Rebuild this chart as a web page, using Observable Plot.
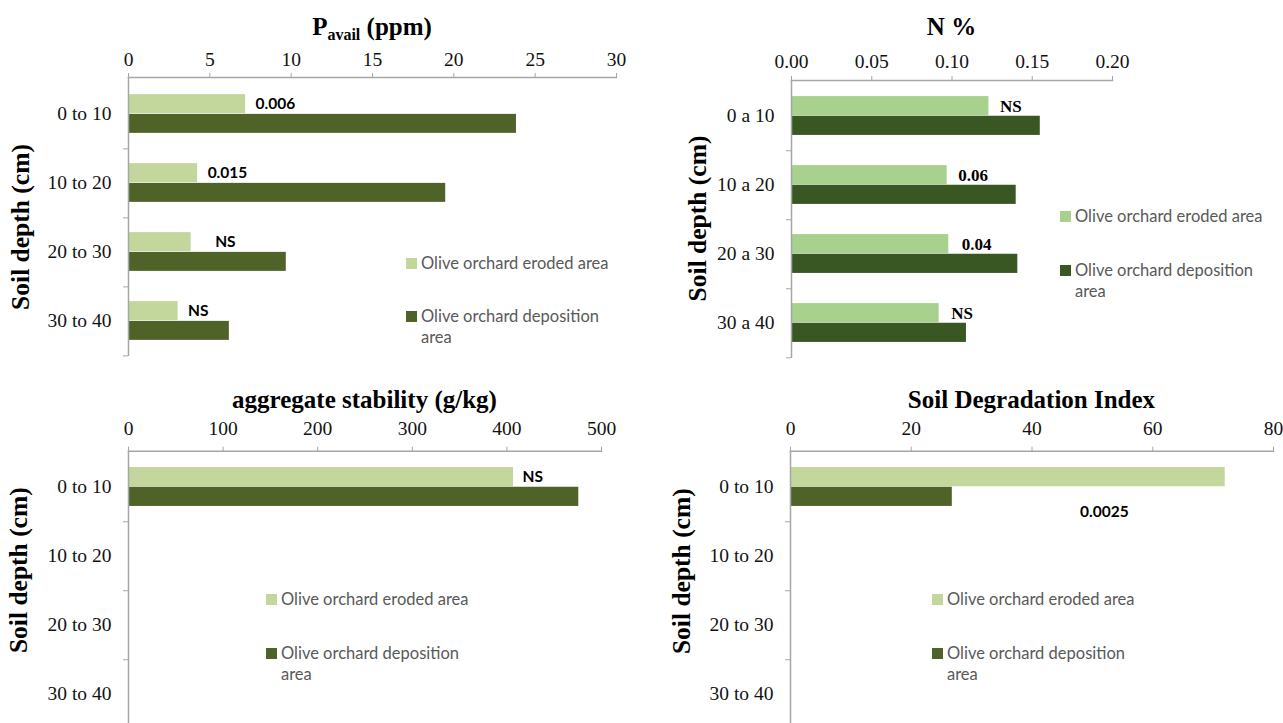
<!DOCTYPE html>
<html><head><meta charset="utf-8">
<script src="https://cdn.jsdelivr.net/npm/d3@7"></script>
<script src="https://cdn.jsdelivr.net/npm/@observablehq/plot@0.6"></script>
<style>
html,body{margin:0;padding:0;background:#fff;}
body{width:1283px;height:723px;position:relative;overflow:hidden;}
.panel{position:absolute;}
.panel svg{display:block;max-width:none;}
.title{position:absolute;font-family:"Liberation Serif",serif;font-weight:bold;font-size:25px;line-height:28px;text-align:center;color:#000;white-space:nowrap;}
.title sub{font-size:16px;vertical-align:-5px;line-height:0;}
.leg{position:absolute;display:flex;align-items:flex-start;font-family:Lato,sans-serif;font-size:16.5px;line-height:21px;color:#595959;}
.leg .sw{width:11px;height:11px;margin-top:5px;margin-right:4px;flex:none;}
</style></head><body>
<script>
// ---------- data ----------
const depthTo = ["0 to 10", "10 to 20", "20 to 30", "30 to 40"];
const depthA = ["0 a 10", "10 a 20", "20 a 30", "30 a 40"];
const seriesNames = ["Olive orchard eroded area", "Olive orchard deposition area"];
const yTitle = "Soil depth (cm)";

const pEroded = [7.2, 4.25, 3.85, 3.05];
const pDeposition = [23.85, 19.5, 9.7, 6.2];
const pSig = ["0.006", "0.015", "NS", "NS"];
const pTicks = [0, 5, 10, 15, 20, 25, 30];

const nEroded = [0.123, 0.097, 0.098, 0.092];
const nDeposition = [0.155, 0.140, 0.141, 0.109];
const nSig = ["NS", "0.06", "0.04", "NS"];
const nTicks = [0, 0.05, 0.10, 0.15, 0.20];

const aggEroded = [407];
const aggDeposition = [476];
const aggSig = ["NS"];
const aggTicks = [0, 100, 200, 300, 400, 500];

const sdiEroded = [72];
const sdiDeposition = [26.8];
const sdiSig = ["0.0025"];
const sdiTicks = [0, 20, 40, 60, 80];

// ---------- panels ----------
const panels = [
  {left:0, top:0, width:640, height:370, mt:77, mb:14, ml:128, mr:24,
   cats:depthTo, eroded:pEroded, deposition:pDeposition, sig:pSig, ticks:pTicks, fmt:d=>String(d),
   light:"#c3d69b", dark:"#4f6228", sigFont:"Lato", sigSize:15.5, sigMode:"eroded", sigGap:[10, 10, 24, 10],
   title:'P<sub>avail</sub> (ppm)', titleY:27, tickPad:7, ytDx:-108, ytDy:10,
   leg:{x:406, y1:263, y2:316, w:200}},
  {left:640, top:0, width:643, height:370, mt:80, mb:12, ml:151, mr:171,
   cats:depthA, eroded:nEroded, deposition:nDeposition, sig:nSig, ticks:nTicks, fmt:d3.format(".2f"),
   light:"#a9d18e", dark:"#385723", sigFont:"Liberation Serif", sigSize:17, sigMode:"eroded", sigGap:[11, 11, 13, 12],
   title:'N %', titleY:27, tickPad:8, ytDx:-94, ytDy:-1,
   leg:{x:1060, y1:216, y2:270, w:210}},
  {left:0, top:370, width:640, height:360, mt:80.7, mb:1.3, ml:128, mr:39,
   cats:depthTo, eroded:aggEroded, deposition:aggDeposition, sig:aggSig, ticks:aggTicks, fmt:d=>String(d),
   light:"#c3d69b", dark:"#4f6228", sigFont:"Lato", sigSize:15.5, sigMode:"eroded", sigGap:[9],
   title:'aggregate stability (g/kg)', titleY:400, tickPad:11, ytDx:-110, ytDy:-20,
   leg:{x:266, y1:599, y2:653, w:200}},
  {left:640, top:370, width:643, height:360, mt:80.7, mb:1.3, ml:150, mr:10,
   cats:depthTo, eroded:sdiEroded, deposition:sdiDeposition, sig:sdiSig, ticks:sdiTicks, fmt:d=>String(d),
   light:"#c3d69b", dark:"#4f6228", sigFont:"Lato", sigSize:15.5, sigMode:"below", sigGap:[152],
   title:'Soil Degradation Index', titleY:400, tickPad:11, ytDx:-109, ytDy:-19,
   leg:{x:932, y1:599, y2:653, w:200}}
];

const axisColor = "#a6a6a6";

panels.forEach(cfg => {
  const rowsE = cfg.eroded.map((v, i) => ({depth: cfg.cats[i], v, sig: cfg.sig[i], gap: cfg.sigGap[i]}));
  const rowsD = cfg.deposition.map((v, i) => ({depth: cfg.cats[i], v, sig: cfg.sig[i], gap: cfg.sigGap[i]}));
  const band = (cfg.height - cfg.mt - cfg.mb) / cfg.cats.length;
  const barH = band * 0.283;
  const outer = (band - 2 * barH) / 2;

  const sigMarks = cfg.sigMode === "eroded"
    ? rowsE.map(r => Plot.text([r], {x: "v", y: "depth", text: "sig", textAnchor: "start", dx: r.gap, dy: -barH / 2,
        fontFamily: cfg.sigFont, fontWeight: "bold", fontSize: cfg.sigSize, fill: "#000"}))
    : rowsD.map(r => Plot.text([r], {x: "v", y: "depth", text: "sig", textAnchor: "middle", dx: r.gap, dy: 25,
        fontFamily: cfg.sigFont, fontWeight: "bold", fontSize: cfg.sigSize, fill: "#000"}));

  const chart = Plot.plot({
    width: cfg.width, height: cfg.height,
    marginTop: cfg.mt, marginBottom: cfg.mb, marginLeft: cfg.ml, marginRight: cfg.mr,
    style: {fontFamily: "Liberation Serif", fontSize: "19px", color: "#111", background: "transparent"},
    x: {domain: [cfg.ticks[0], cfg.ticks[cfg.ticks.length - 1]], axis: null},
    y: {domain: cfg.cats, padding: 0, axis: null},
    marks: [
      Plot.barX(rowsE, {x: "v", y: "depth", fill: cfg.light, insetTop: outer, insetBottom: outer + barH}),
      Plot.barX(rowsD, {x: "v", y: "depth", fill: cfg.dark, insetTop: outer + barH, insetBottom: outer}),
      Plot.frame({anchor: "top", stroke: axisColor, strokeWidth: 1.5}),
      Plot.ruleX([cfg.ticks[0]], {stroke: axisColor, strokeWidth: 1.5}),
      Plot.axisX({anchor: "top", ticks: cfg.ticks, tickFormat: cfg.fmt, tickSize: 5, tickPadding: cfg.tickPad,
        stroke: axisColor, fill: "#111", label: null, fontSize: 19.5}),
      Plot.axisY({anchor: "left", tickSize: 0, tickPadding: 17, label: null, fontSize: 19.5, fill: "#111"}),
      Plot.axisY({anchor: "left", tickSize: 5, tickFormat: () => "", label: null, dy: band / 2, stroke: axisColor}),
      ...sigMarks,
      Plot.text([yTitle], {frameAnchor: "left", textAnchor: "middle", lineAnchor: "middle", rotate: -90,
        dx: cfg.ytDx, dy: cfg.ytDy, fontSize: 25.5, fontWeight: "bold", fill: "#000"})
    ]
  });

  const div = document.createElement("div");
  div.className = "panel";
  div.style.left = cfg.left + "px";
  div.style.top = cfg.top + "px";
  div.style.width = cfg.width + "px";
  div.style.height = cfg.height + "px";
  div.appendChild(chart);
  document.body.appendChild(div);

  const t = document.createElement("div");
  t.className = "title";
  t.innerHTML = cfg.title;
  t.style.left = (cfg.left + cfg.ml) + "px";
  t.style.width = (cfg.width - cfg.ml - cfg.mr) + "px";
  t.style.top = (cfg.titleY - 14) + "px";
  document.body.appendChild(t);

  [cfg.light, cfg.dark].forEach((c, k) => {
    const item = document.createElement("div");
    item.className = "leg";
    item.style.left = cfg.leg.x + "px";
    item.style.top = ((k ? cfg.leg.y2 : cfg.leg.y1) - 10.5) + "px";
    const sw = document.createElement("div");
    sw.className = "sw";
    sw.style.background = c;
    const tx = document.createElement("div");
    tx.style.width = cfg.leg.w + "px";
    tx.textContent = seriesNames[k];
    item.appendChild(sw);
    item.appendChild(tx);
    document.body.appendChild(item);
  });
});
</script>
</body></html>
